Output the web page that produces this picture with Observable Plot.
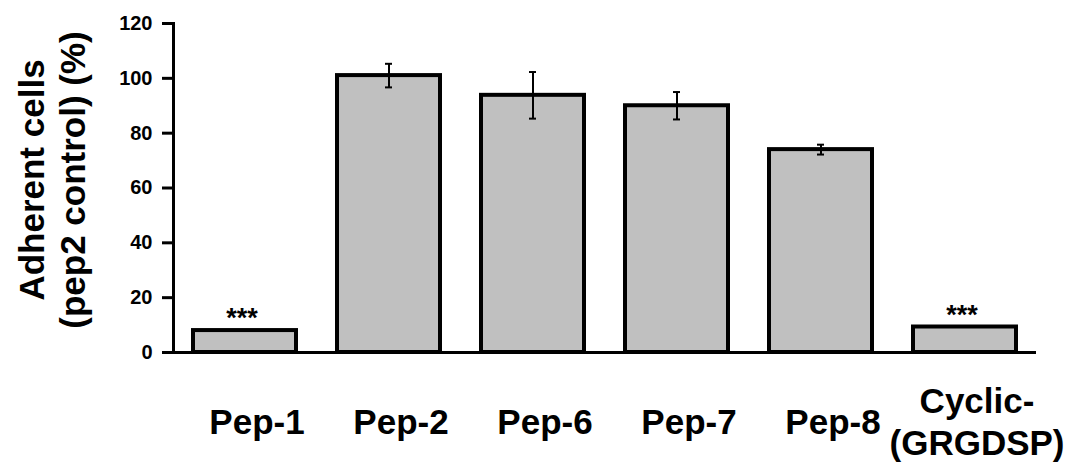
<!DOCTYPE html>
<html>
<head>
<meta charset="utf-8">
<script src="https://cdn.jsdelivr.net/npm/d3@7"></script>
<script src="https://cdn.jsdelivr.net/npm/@observablehq/plot@0.6"></script>
<style>
  html, body { margin: 0; padding: 0; background: #fff; }
  #chart svg { display: block; }
</style>
</head>
<body>
<div id="chart"></div>
<script>
const categories = ["Pep-1", "Pep-2", "Pep-6", "Pep-7", "Pep-8", "Cyclic-(GRGDSP)"];
const labels = ["Pep-1", "Pep-2", "Pep-6", "Pep-7", "Pep-8", "Cyclic-\n(GRGDSP)"];
const values = [8.0, 101.0, 93.8, 90.0, 74.0, 9.3];
const errors = [null, 4.3, 8.5, 5.0, 1.8, null];
const stars = ["***", "", "", "", "", "***"];
const yTicks = [0, 20, 40, 60, 80, 100, 120];
const yTitle = "Adherent cells\n(pep2 control) (%)";

const data = categories.map((c, i) => ({
  cat: c, label: labels[i], value: values[i], err: errors[i], star: stars[i]
}));
const errData = data.filter(d => d.err != null);
const starData = data.filter(d => d.star);

const font = "'Liberation Sans', Arial, Helvetica, sans-serif";

const chart = Plot.plot({
  width: 1074,
  height: 464,
  marginLeft: 173,
  marginRight: 38,
  marginTop: 23,
  marginBottom: 112,
  style: { fontFamily: font, background: "#fff", color: "#000" },
  x: { domain: categories, paddingInner: 0.287, paddingOuter: 0.128, axis: null },
  y: { domain: [0, 120], axis: null },
  marks: [
    Plot.barY(data, { x: "cat", y: "value", fill: "#c0c0c0", stroke: "#000", strokeWidth: 4 }),
    Plot.ruleX(errData, { x: "cat", y1: d => d.value - d.err, y2: d => d.value + d.err, stroke: "#000", strokeWidth: 2 }),
    Plot.tickY(errData, { x: "cat", y: d => d.value - d.err, stroke: "#000", strokeWidth: 2, insetLeft: 48, insetRight: 48 }),
    Plot.tickY(errData, { x: "cat", y: d => d.value + d.err, stroke: "#000", strokeWidth: 2, insetLeft: 48, insetRight: 48 }),
    Plot.text(starData, { x: "cat", y: "value", text: "star", dx: -3, dy: -12, fontSize: 27, fontWeight: "bold", fill: "#000" }),
    Plot.frame({ anchor: "left", stroke: "#000", strokeWidth: 3 }),
    Plot.ruleY([0], { stroke: "#000", strokeWidth: 3 }),
    Plot.axisY({ ticks: yTicks, tickSize: 11, tickPadding: 10, tickFormat: d => String(d), fontSize: 20, fontWeight: "bold", stroke: "#000", strokeWidth: 3, label: null }),
    Plot.text(data, { x: "cat", text: "label", frameAnchor: "bottom", dx: 12, dy: 68, lineAnchor: "middle", lineHeight: 1.2, fontSize: 35, fontWeight: "bold", fill: "#000" }),
    Plot.text([yTitle], { frameAnchor: "left", dx: -122, dy: -8, rotate: -90, textAnchor: "middle", lineAnchor: "middle", lineHeight: 1.15, fontSize: 35, fontWeight: "bold", fill: "#000" })
  ]
});
document.getElementById("chart").appendChild(chart);
</script>
</body>
</html>
